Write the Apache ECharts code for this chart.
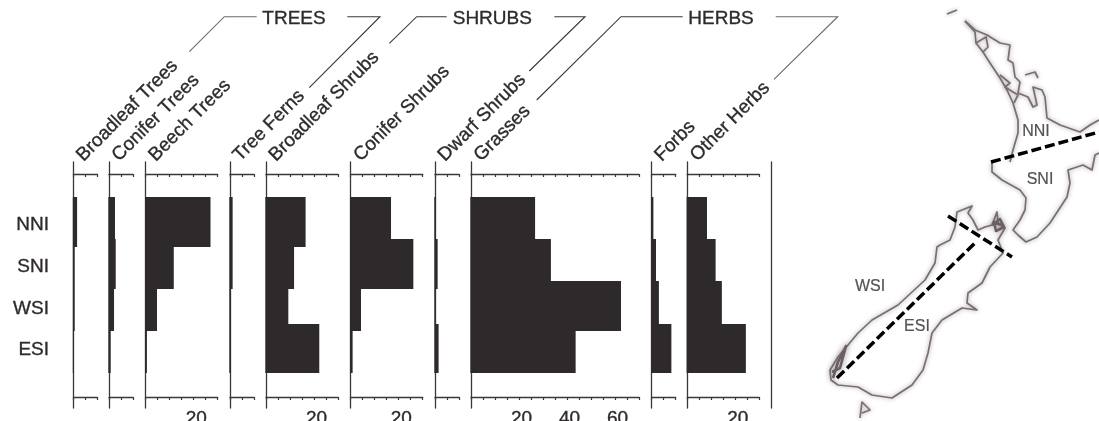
<!DOCTYPE html>
<html><head><meta charset="utf-8">
<style>html,body{margin:0;padding:0;background:#fff;overflow:hidden}#c{width:1099px;height:421px}</style>
<script src="https://cdn.jsdelivr.net/npm/echarts@6/dist/echarts.min.js"></script>
</head><body><div id="c"></div>
<script>
const regions = ['NNI','SNI','WSI','ESI'];
const taxa = ['Broadleaf Trees','Conifer Trees','Beech Trees','Tree Ferns','Broadleaf Shrubs','Conifer Shrubs','Dwarf Shrubs','Grasses','Forbs','Other Herbs'];
const axisMax = [10,10,30,10,30,30,10,70,10,30];
const broadleafTrees = [1.5,0.5,0.5,0.1];
const coniferTrees = [2.5,2.8,2.1,0.7];
const beechTrees = [27,11.7,4.7,0.5];
const treeFerns = [1.1,1.1,0.4,0.4];
const broadleafShrubs = [16.5,11.7,9.3,22.2];
const coniferShrubs = [16.8,26.1,4.3,0.8];
const dwarfShrubs = [0.4,1.1,0.3,1.5];
const grasses = [26.7,33.3,62.5,43.6];
const forbs = [0.7,1.8,3,8.2];
const otherHerbs = [8.2,11.8,14.4,24.4];
const allValues = [broadleafTrees,coniferTrees,beechTrees,treeFerns,broadleafShrubs,coniferShrubs,dwarfShrubs,grasses,forbs,otherHerbs];
// band edges of the four regions in each panel, percent of axis height
const edgesBroadleafTrees = [14.3,34.6,51.6,68.6,85.6];
const edgesConiferTrees = [14.3,31.4,51.6,68.6,85.6];
const edgesBeechTrees = [14.3,34.6,51.6,68.6,85.6];
const edgesTreeFerns = [14.3,34.6,51.6,68.6,85.6];
const edgesBroadleafShrubs = [14.3,34.6,51.6,65.9,85.6];
const edgesConiferShrubs = [14.3,31.4,51.6,68.6,85.6];
const edgesDwarfShrubs = [14.3,31.4,51.6,65.9,85.6];
const edgesGrasses = [14.3,31.4,48.5,68.6,85.6];
const edgesForbs = [14.3,31.4,48.5,65.9,85.6];
const edgesOtherHerbs = [14.3,31.4,48.5,65.9,85.6];
const allEdges = [edgesBroadleafTrees,edgesConiferTrees,edgesBeechTrees,edgesTreeFerns,edgesBroadleafShrubs,edgesConiferShrubs,edgesDwarfShrubs,edgesGrasses,edgesForbs,edgesOtherHerbs];
// map outlines
const coastNorthWest = [[965,21],[975,32],[976,43],[983,52],[990,63],[1000,78],[1007,90],[1013,103],[1018,120],[1018,133],[1013,150],[1010,162]];
const coastNorthEast = [[965,21],[975,30],[987,35],[1000,43],[1010,45],[1008,60],[1013,63],[1015,77],[1020,82],[1018,93],[1028,97],[1033,107],[1037,105],[1033,87],[1042,90],[1045,97],[1047,118],[1060,125],[1080,132],[1090,125],[1099,120]];
const coastNorthDetail = [[976,43],[986,37],[988,47],[983,52]];
const coastNorthIsland = [[1025,75],[1035,72],[1038,78]];
const coastNorthHarbour = [[1000,75],[1010,83],[1005,87],[1013,92],[1018,95],[1014,103]];
const coastNorthSouth = [[992,162],[992,172],[1002,180],[1020,190],[1026,198],[1025,210],[1020,220],[1013,230],[1018,235],[1026,242],[1037,237],[1050,223],[1067,197],[1070,183],[1068,170],[1083,165],[1092,170],[1095,155],[1099,153]];
const coastSouthIsland = [[940,245],[950,240],[955,227],[957,212],[972,206],[968,213],[973,220],[978,230],[985,227],[992,225],[997,212],[998,223],[1005,228],[998,240],[1003,253],[990,267],[982,283],[968,293],[967,303],[977,310],[962,308],[942,320],[932,333],[928,353],[923,370],[912,385],[892,398],[872,395],[858,387],[838,385],[831,380],[830,370],[838,357],[858,333],[872,320],[898,305],[925,280],[935,263],[937,247],[940,245]];
const coastMarlborough = [[992,225],[1000,219],[1004,227],[996,231],[994,222],[1001,225]];
const coastFiordland = [[833,378],[838,362],[846,346],[840,368],[832,372]];
const coastStewart = [[860,418],[862,402],[870,410],[862,413]];
const coastTop = [[947,14],[957,10]];
const dividerNorth = [[991,162],[1099,132]];
const dividerCross = [[948,216],[1012,257]];
const dividerSouth = [[837,378],[977,241]];
const mapLabels = ['NNI','SNI','WSI','ESI'];
const mapLabelX = [1036,1040,870,917];
const mapLabelY = [131.5,180,287,327];
const groupNames = ['TREES','SHRUBS','HERBS'];
const bottomLabels = [20,40,60];

const axisLeft = [73.5,109,145.7,230,266,350.7,435,471,651.7,687.3];
const pxPerUnit = 2.4, axisTop = 162, axisHeight = 246;
const ink = '#2e2a2c', lineInk = '#3c3839';
const F = 'Liberation Sans, Arial, Helvetica, sans-serif';
const heavy = {textBorderColor:ink,textBorderWidth:0.35};

const grid=[], xAxis=[], yAxis=[], series=[];
const axisLine={show:true,onZero:false,lineStyle:{color:lineInk,width:1.3}};
taxa.forEach((name,i)=>{
  grid.push({left:axisLeft[i],top:axisTop,width:axisMax[i]*pxPerUnit,height:axisHeight,outerBoundsMode:'none'});
  xAxis.push({gridIndex:i,type:'value',position:'top',offset:-12,min:0,max:axisMax[i],interval:5,
    axisLine,axisTick:{show:true,inside:true,length:3,lineStyle:{color:lineInk,width:1.2}},
    axisLabel:{show:false},splitLine:{show:false}});
  xAxis.push({gridIndex:i,type:'value',position:'bottom',offset:-11,min:0,max:axisMax[i],interval:5,
    axisLine,axisTick:{show:true,inside:false,length:3,lineStyle:{color:lineInk,width:1.2}},
    axisLabel:{show:true,margin:12,color:ink,fontFamily:F,fontSize:19,padding:[0,0,0,5],...heavy,showMinLabel:true,showMaxLabel:true,hideOverlap:false,
      formatter:v=>bottomLabels.includes(v)?String(v):''},splitLine:{show:false}});
  yAxis.push({gridIndex:i,type:'value',inverse:true,min:0,max:100,axisLine,axisTick:{show:false},axisLabel:{show:false},splitLine:{show:false}});
  series.push({type:'custom',name,xAxisIndex:i*2,yAxisIndex:i,clip:false,silent:true,
    data:allValues[i].map((v,k)=>[v,allEdges[i][k],allEdges[i][k+1]]),
    encode:{x:0,y:[1,2]},
    renderItem:(p,api)=>{
      const a=api.coord([0,api.value(1)]),b=api.coord([api.value(0),api.value(2)]);
      const y0=Math.round(a[1]),y1=Math.round(b[1]);
      return {type:'rect',shape:{x:a[0]-0.7,y:y0,width:b[0]-a[0]+0.7,height:y1-y0},style:{fill:ink}};
    }});
});
// closing vertical line
let g=grid.length;
grid.push({left:771.7,top:axisTop,width:1,height:axisHeight,outerBoundsMode:'none'});
xAxis.push({gridIndex:g,type:'value',show:false,min:0,max:1});
yAxis.push({gridIndex:g,type:'value',inverse:true,min:0,max:100,axisLine,axisTick:{show:false},axisLabel:{show:false},splitLine:{show:false}});
// region labels
g=grid.length;
grid.push({left:49,top:204,width:10,height:167,outerBoundsMode:'none'});
xAxis.push({gridIndex:g,type:'value',show:false,min:0,max:1});
yAxis.push({gridIndex:g,type:'category',inverse:true,data:regions,axisLine:{show:false},axisTick:{show:false},splitLine:{show:false},
  axisLabel:{margin:0,color:ink,fontFamily:F,fontSize:19,align:'right',...heavy}});
series.push({type:'line',xAxisIndex:xAxis.length-1,yAxisIndex:yAxis.length-1,data:[],silent:true});
// map
g=grid.length;
grid.push({left:820,top:0,width:279,height:421,outerBoundsMode:'none'});
xAxis.push({gridIndex:g,type:'value',show:false,min:820,max:1099});
yAxis.push({gridIndex:g,type:'value',show:false,inverse:true,min:0,max:421});
const mx=xAxis.length-1,my=yAxis.length-1;
[coastNorthWest,coastNorthEast,coastNorthDetail,coastNorthIsland,coastNorthHarbour,coastNorthSouth,coastSouthIsland,coastStewart,coastTop].forEach(d=>series.push({type:'line',xAxisIndex:mx,yAxisIndex:my,data:d,showSymbol:false,silent:true,
  lineStyle:{color:'#7a6e70',width:1.7,join:'round',shadowColor:'rgba(100,90,92,0.6)',shadowBlur:4}}));
[coastMarlborough,coastFiordland].forEach(d=>series.push({type:'line',xAxisIndex:mx,yAxisIndex:my,data:d,showSymbol:false,silent:true,
  lineStyle:{color:'#6a5f62',width:2.6,join:'round',shadowColor:'rgba(90,80,82,0.6)',shadowBlur:6}}));
[dividerNorth,dividerCross,dividerSouth].forEach(d=>series.push({type:'line',xAxisIndex:mx,yAxisIndex:my,data:d,showSymbol:false,silent:true,z:5,
  lineStyle:{color:'#000',width:3.5,type:[10,4],cap:'butt'}}));
series.push({type:'scatter',xAxisIndex:mx,yAxisIndex:my,symbolSize:0,silent:true,z:6,
  data:mapLabels.map((t,i)=>({value:[mapLabelX[i],mapLabelY[i]],name:t})),
  label:{show:true,position:'inside',formatter:'{b}',color:ink,fontFamily:F,fontSize:16,textBorderColor:ink,textBorderWidth:0.2}});

// rotated headers, group names and their leaders
const graphic=[];
taxa.forEach((t,i)=>graphic.push({type:'text',x:axisLeft[i]+13,y:165,rotation:Math.PI/4,silent:true,
  style:{text:t,fill:ink,stroke:ink,lineWidth:0.35,font:'19px '+F,textAlign:'left',textVerticalAlign:'bottom'}}));
const groupX=[294,492.3,721];
groupNames.forEach((t,i)=>graphic.push({type:'text',x:groupX[i],y:19,silent:true,
  style:{text:t,fill:ink,stroke:ink,lineWidth:0.35,font:'19px '+F,textAlign:'center',textVerticalAlign:'middle'}}));
const leaders=[
 [[[189.3,51.7],[224.3,16.7],[256.7,16.7]],'#6b6b6b'],
 [[[347.3,16.7],[380,16.7],[309.3,87.7]],'#3c3839'],
 [[[389.3,43.3],[416.7,16.7],[446.7,16.7]],'#3c3839'],
 [[[554.3,16.7],[585,16.7],[529.3,71]],'#3c3839'],
 [[[536.7,100],[621,16.7],[682.7,16.7]],'#3c3839'],
 [[[775.7,16.7],[837.7,16.7],[774,79.3]],'#6b6b6b']];
leaders.forEach(l=>graphic.push({type:'polyline',silent:true,shape:{points:l[0]},style:{stroke:l[1],lineWidth:1.1,fill:null}}));

const chart=echarts.init(document.getElementById('c'),null,{renderer:'canvas'});
chart.setOption({animation:false,backgroundColor:'#fff',grid,xAxis,yAxis,series,graphic});
</script></body></html>
